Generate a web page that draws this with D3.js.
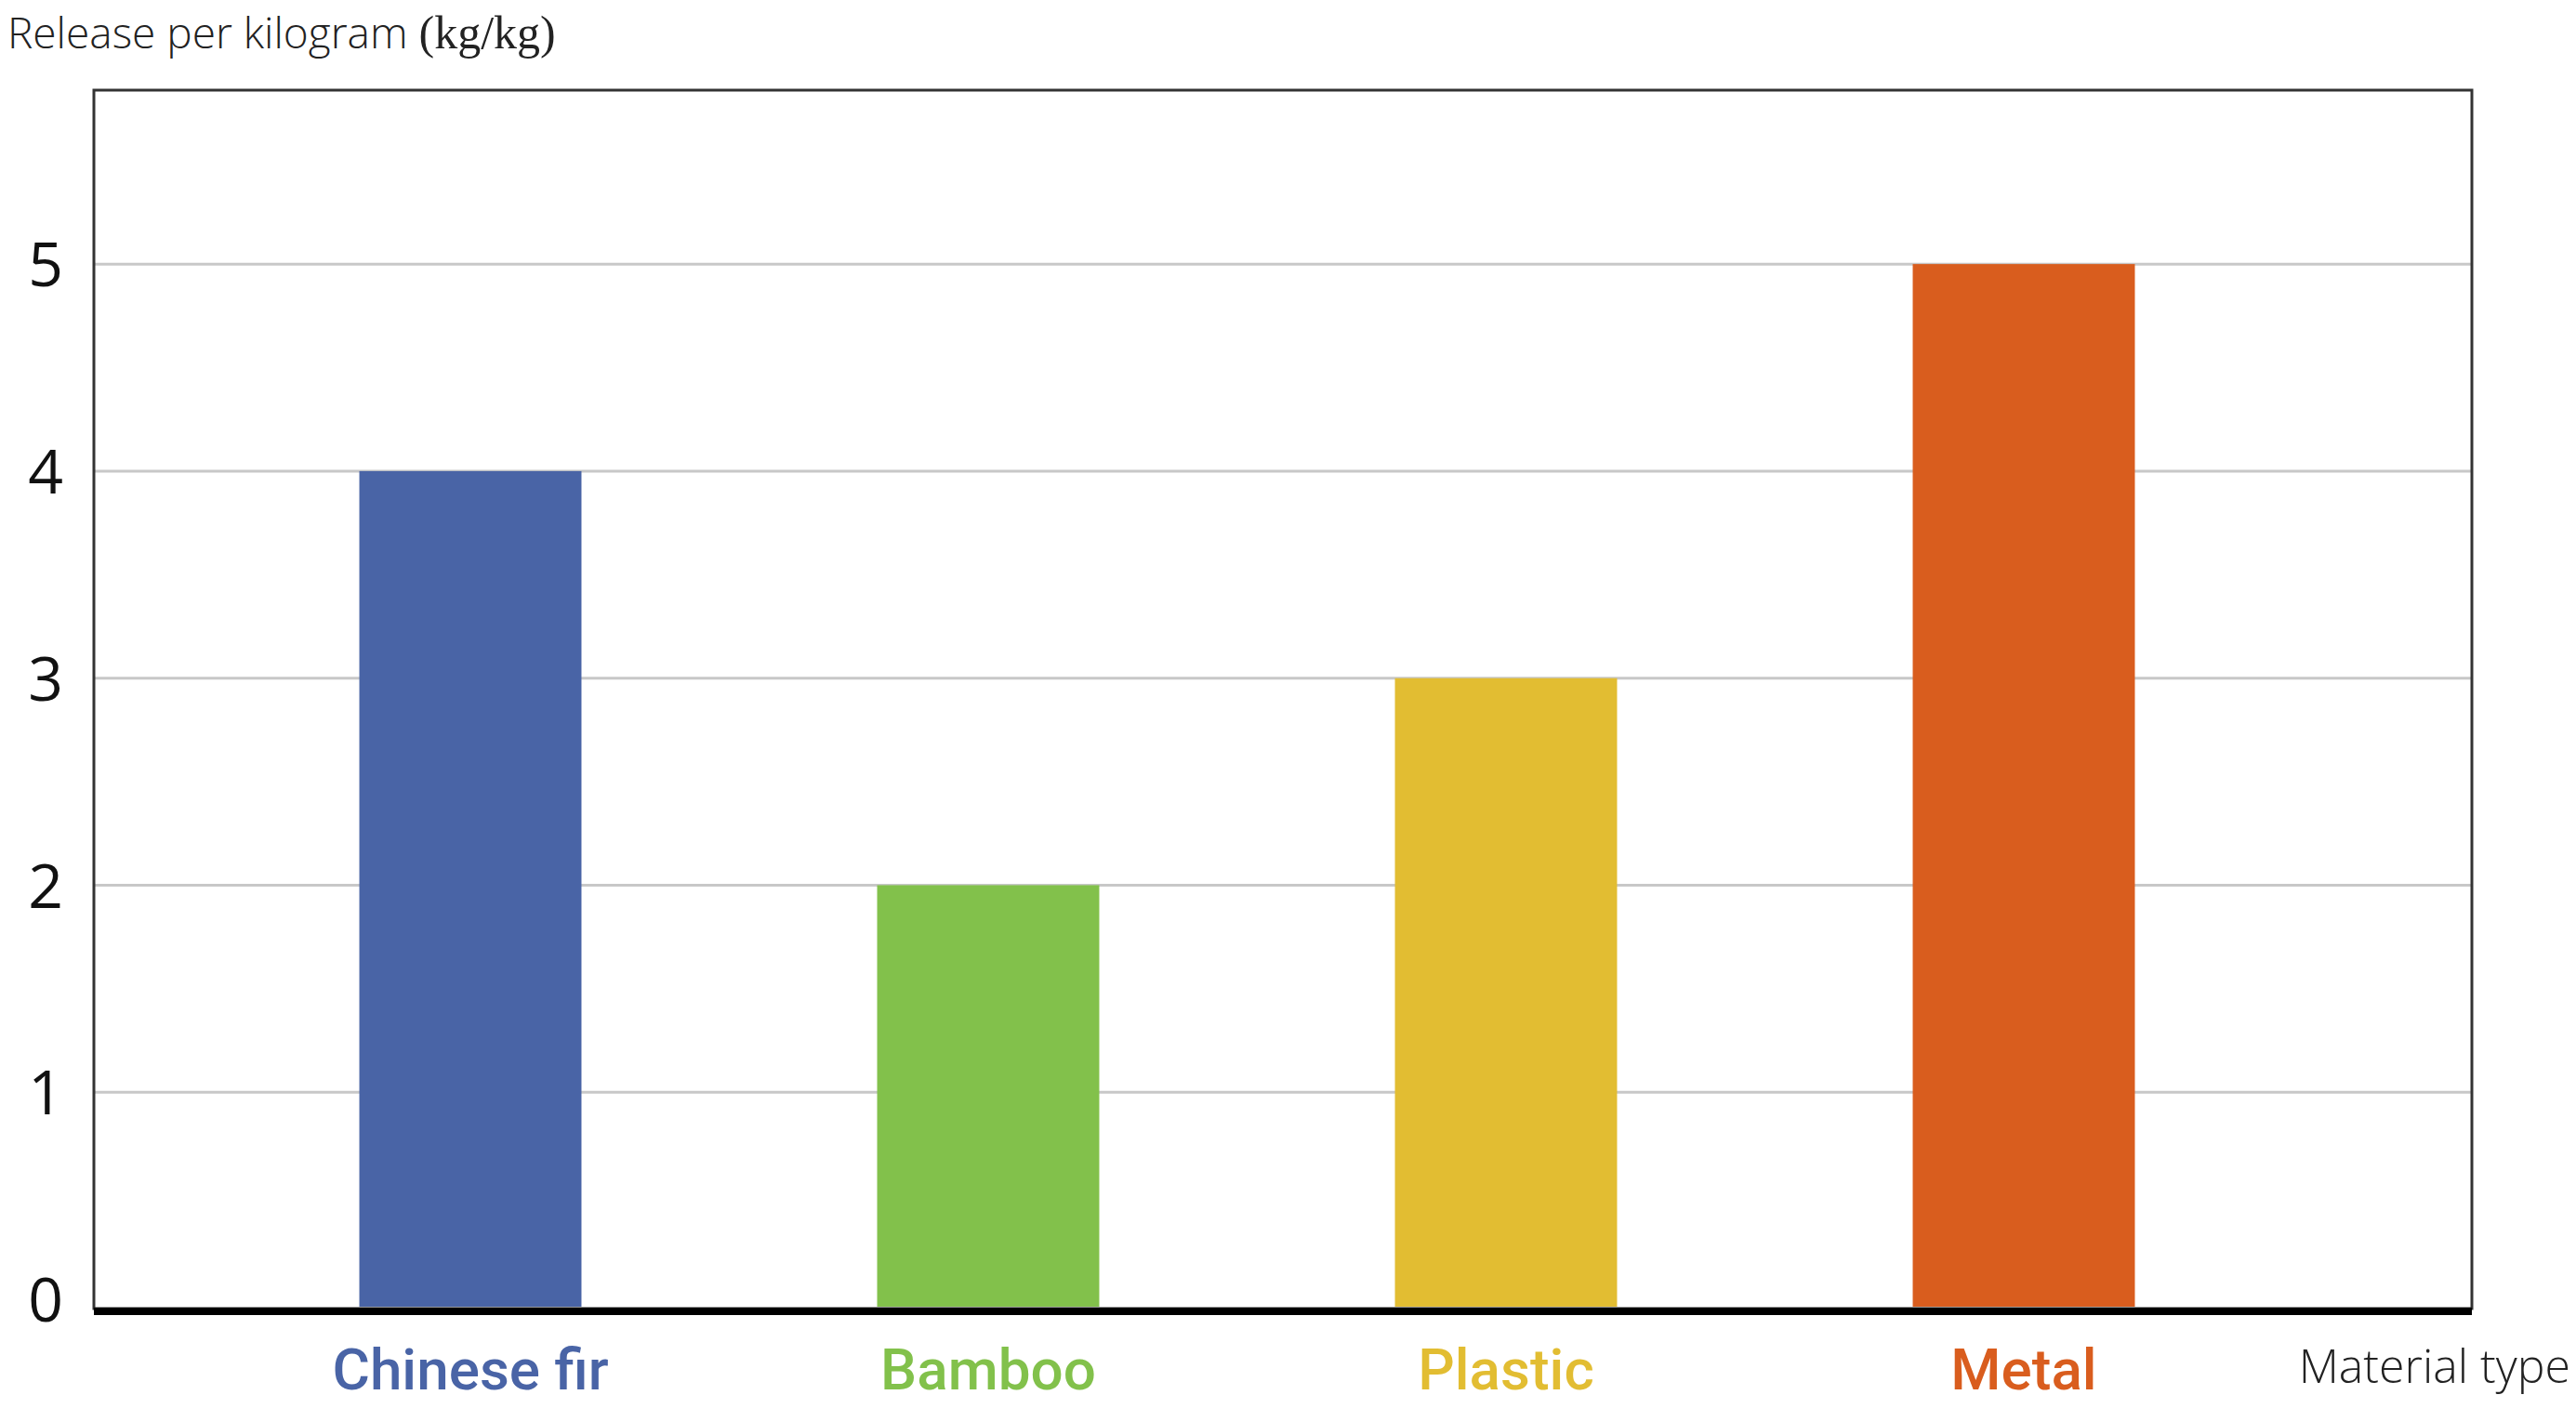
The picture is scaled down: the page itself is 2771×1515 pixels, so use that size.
<!DOCTYPE html>
<html><head><meta charset="utf-8">
<script src="https://cdn.jsdelivr.net/npm/d3@7"></script>
<style>body{margin:0;background:#fff}</style></head>
<body><svg id="c" width="2771" height="1515"></svg>
<script>
const categories = ["Chinese fir","Bamboo","Plastic","Metal"];
const values = [4,2,3,5];
const colors = ["#4964a6","#82c14b","#e2bd32","#d95d1e"];
const yTicks = [0,1,2,3,4,5];

const svg = d3.select("#c");
const L=101,R=2659,T=97,B=1398;
const y = d3.scaleLinear().domain([0,5.84]).range([B,T]);
const x = d3.scaleBand().domain(categories).range([227.5,2455.5]).paddingInner(0.571).paddingOuter(0.2855);

svg.append("g").selectAll("line").data(yTicks.filter(d=>d>0)).join("line")
  .attr("x1",L).attr("x2",R).attr("y1",d=>y(d)).attr("y2",d=>y(d))
  .attr("stroke","#c8c8c8").attr("stroke-width",3);

svg.append("g").selectAll("rect").data(categories).join("rect")
  .attr("x",d=>x(d)).attr("width",x.bandwidth())
  .attr("y",(d,i)=>y(values[i])).attr("height",(d,i)=>B-y(values[i])+8)
  .attr("fill",(d,i)=>colors[i]);

svg.append("rect").attr("x",L).attr("y",T).attr("width",R-L).attr("height",B+10-T)
  .attr("fill","none").attr("stroke","#333").attr("stroke-width",3);
svg.append("line").attr("x1",L).attr("x2",R).attr("y1",B+13).attr("y2",B+13)
  .attr("stroke","#000").attr("stroke-width",8);

const yAxis = d3.axisLeft(y).tickValues(yTicks).tickSize(0).tickFormat(d3.format("d"));
const ga = svg.append("g").attr("transform",`translate(${L-25},0)`).call(yAxis);
ga.select(".domain").remove();
ga.selectAll("text").attr("font-family","Open Sans").attr("font-weight",400)
  .attr("font-size",66).attr("fill","#111").attr("x",-8).attr("dy","0.36em");

const xAxis = d3.axisBottom(x).tickSize(0);
const gx = svg.append("g").attr("transform",`translate(0,${B})`).call(xAxis);
gx.select(".domain").remove();
gx.selectAll("text").attr("font-family","Roboto").attr("font-weight",500)
  .attr("font-size",62).attr("dy",0).attr("y",97)
  .attr("fill",(d,i)=>colors[i]);

const t = svg.append("text").attr("x",8).attr("y",52).attr("font-family","Open Sans")
  .attr("font-weight",300).attr("font-size",46).attr("fill","#222");
t.append("tspan").text("Release per kilogram ");
t.append("tspan").attr("font-family","Liberation Serif").attr("font-size",50).text("(kg/kg)");

svg.append("text").attr("x",2765).attr("y",1488).attr("text-anchor","end")
  .attr("font-family","Open Sans").attr("font-weight",300).attr("font-size",50)
  .attr("fill","#222").text("Material type");
</script></body></html>
